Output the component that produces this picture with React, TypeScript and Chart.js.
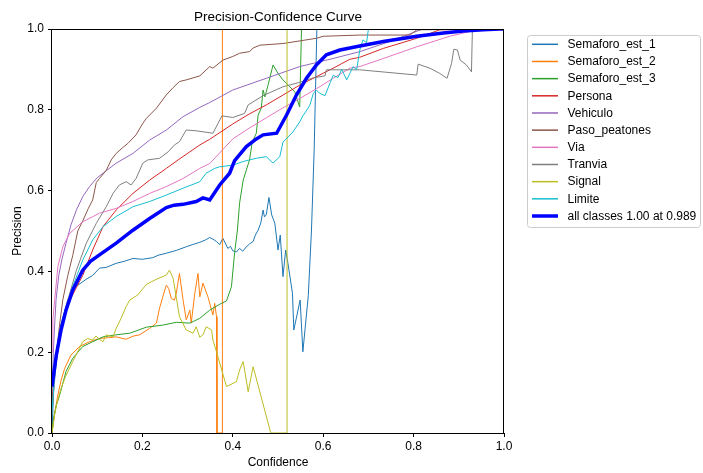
import { useEffect, useRef } from "react";
import { Chart, registerables } from "chart.js";

Chart.register(...registerables);

const FONT = '"Liberation Sans", Arial, Helvetica, sans-serif';

const classNames = [
  "Semaforo_est_1",
  "Semaforo_est_2",
  "Semaforo_est_3",
  "Persona",
  "Vehiculo",
  "Paso_peatones",
  "Via",
  "Tranvia",
  "Signal",
  "Limite",
];
const classColors = [
  "#1f77b4",
  "#ff7f0e",
  "#2ca02c",
  "#d62728",
  "#9467bd",
  "#8c564b",
  "#e377c2",
  "#7f7f7f",
  "#bcbd22",
  "#17becf",
];
const allClassesLabel = "all classes 1.00 at 0.989";
const allClassesColor = "#0000ff";

const xTicks = [0, 0.2, 0.4, 0.6, 0.8, 1.0];
const yTicks = [0, 0.2, 0.4, 0.6, 0.8, 1.0];

// [confidence, precision]
const semaforoEst1: [number, number][] = [
  [0, 0], [0.004, 0.12], [0.01, 0.2], [0.02, 0.27], [0.035, 0.33], [0.05, 0.36], [0.075, 0.38],
  [0.09, 0.39], [0.105, 0.408], [0.12, 0.41], [0.142, 0.42], [0.16, 0.425], [0.179, 0.432],
  [0.2, 0.43], [0.223, 0.434], [0.235, 0.44], [0.253, 0.445], [0.275, 0.452], [0.297, 0.461],
  [0.31, 0.466], [0.327, 0.472], [0.34, 0.478], [0.349, 0.484], [0.356, 0.48], [0.364, 0.474],
  [0.371, 0.466], [0.378, 0.482], [0.389, 0.457], [0.395, 0.462], [0.4, 0.451], [0.408, 0.448],
  [0.415, 0.457], [0.422, 0.45], [0.43, 0.461], [0.437, 0.468], [0.445, 0.474], [0.45, 0.49],
  [0.456, 0.502], [0.462, 0.52], [0.467, 0.552], [0.47, 0.535], [0.474, 0.54], [0.48, 0.583],
  [0.486, 0.54], [0.493, 0.519], [0.5, 0.453], [0.505, 0.49], [0.511, 0.387], [0.517, 0.453],
  [0.522, 0.42], [0.532, 0.346], [0.535, 0.255], [0.549, 0.329], [0.555, 0.201], [0.567, 0.34],
  [0.574, 0.5], [0.58, 0.7], [0.586, 1.0], [1.0, 1.0],
];
const semaforoEst2: [number, number][] = [
  [0, 0], [0.006, 0.05], [0.013, 0.094], [0.02, 0.13], [0.028, 0.16], [0.042, 0.193], [0.061, 0.214],
  [0.083, 0.226], [0.105, 0.234], [0.125, 0.236], [0.142, 0.238], [0.164, 0.232], [0.18, 0.24],
  [0.194, 0.243], [0.216, 0.259], [0.231, 0.272], [0.238, 0.309], [0.245, 0.337], [0.253, 0.366],
  [0.258, 0.358], [0.264, 0.333], [0.271, 0.329], [0.275, 0.346], [0.282, 0.395], [0.29, 0.329],
  [0.297, 0.28], [0.305, 0.304], [0.308, 0.272], [0.316, 0.346], [0.323, 0.395], [0.327, 0.337],
  [0.334, 0.371], [0.345, 0.337], [0.356, 0.292], [0.36, 0.321], [0.364, 0.288], [0.365, 0],
  [0.377, 0], [0.377, 1.0], [1.0, 1.0],
];
const semaforoEst3: [number, number][] = [
  [0, 0], [0.004, 0.04], [0.01, 0.07], [0.017, 0.094], [0.031, 0.152], [0.046, 0.185], [0.068, 0.214],
  [0.09, 0.226], [0.113, 0.238], [0.142, 0.243], [0.172, 0.247], [0.209, 0.262], [0.245, 0.267],
  [0.275, 0.274], [0.305, 0.272], [0.327, 0.284], [0.349, 0.304], [0.37, 0.318], [0.386, 0.327],
  [0.397, 0.362], [0.404, 0.446], [0.41, 0.5], [0.415, 0.569], [0.423, 0.626], [0.43, 0.651],
  [0.437, 0.676], [0.443, 0.72], [0.452, 0.742], [0.456, 0.787], [0.463, 0.804], [0.467, 0.849],
  [0.471, 0.832], [0.478, 0.861], [0.489, 0.911], [0.5, 0.89], [0.511, 0.874], [0.526, 0.857],
  [0.537, 0.845], [0.548, 0.807], [0.552, 1.0], [1.0, 1.0],
];
const persona: [number, number][] = [
  [0, 0.08], [0.005, 0.15], [0.01, 0.2], [0.02, 0.26], [0.03, 0.3], [0.04, 0.33], [0.054, 0.36],
  [0.068, 0.39], [0.09, 0.453], [0.113, 0.511], [0.142, 0.552], [0.179, 0.593], [0.216, 0.626],
  [0.253, 0.655], [0.279, 0.676], [0.305, 0.696], [0.327, 0.713], [0.349, 0.727], [0.4, 0.765],
  [0.437, 0.79], [0.474, 0.812], [0.548, 0.861], [0.622, 0.903], [0.659, 0.925], [0.681, 0.93],
  [0.733, 0.952], [0.807, 0.977], [0.858, 0.998], [1.0, 1.0],
];
const vehiculo: [number, number][] = [
  [0, 0.1], [0.003, 0.2], [0.006, 0.27], [0.009, 0.33], [0.015, 0.39], [0.022, 0.43], [0.031, 0.47],
  [0.042, 0.515], [0.054, 0.552], [0.068, 0.585], [0.083, 0.61], [0.1, 0.632], [0.113, 0.643],
  [0.142, 0.668], [0.179, 0.692], [0.216, 0.725], [0.253, 0.75], [0.29, 0.783], [0.327, 0.806],
  [0.349, 0.818], [0.4, 0.849], [0.474, 0.878], [0.548, 0.907], [0.622, 0.927], [0.681, 0.944],
  [0.75, 0.97], [0.82, 1.0], [1.0, 1.0],
];
const pasoPeatones: [number, number][] = [
  [0, 0.05], [0.004, 0.12], [0.01, 0.2], [0.017, 0.27], [0.024, 0.33], [0.035, 0.39], [0.046, 0.44],
  [0.057, 0.5], [0.068, 0.525], [0.08, 0.555], [0.09, 0.577], [0.098, 0.62], [0.105, 0.63],
  [0.12, 0.65], [0.131, 0.676], [0.142, 0.692], [0.155, 0.705], [0.168, 0.717], [0.186, 0.738],
  [0.2, 0.765], [0.209, 0.779], [0.231, 0.804], [0.253, 0.837], [0.268, 0.855], [0.282, 0.87],
  [0.297, 0.874], [0.327, 0.884], [0.349, 0.907], [0.356, 0.903], [0.378, 0.923], [0.4, 0.932],
  [0.415, 0.94], [0.437, 0.944], [0.445, 0.953], [0.46, 0.96], [0.511, 0.964], [0.585, 0.977],
  [0.6, 0.982], [0.681, 0.985], [0.792, 0.985], [0.807, 0.998], [1.0, 1.0],
];
const via: [number, number][] = [
  [0, 0.2], [0.002, 0.28], [0.006, 0.33], [0.013, 0.412], [0.024, 0.461], [0.039, 0.494],
  [0.068, 0.523], [0.105, 0.544], [0.142, 0.556], [0.179, 0.573], [0.216, 0.593], [0.253, 0.61],
  [0.29, 0.63], [0.327, 0.655], [0.349, 0.667], [0.4, 0.728], [0.437, 0.755], [0.474, 0.78],
  [0.511, 0.805], [0.548, 0.828], [0.585, 0.852], [0.622, 0.878], [0.659, 0.903], [0.681, 0.907],
  [0.733, 0.927], [0.807, 0.956], [0.88, 0.982], [0.94, 0.998], [1.0, 1.0],
];
const tranvia: [number, number][] = [
  [0, 0.05], [0.005, 0.12], [0.01, 0.18], [0.02, 0.26], [0.035, 0.329], [0.054, 0.403], [0.076, 0.47],
  [0.098, 0.519], [0.12, 0.56], [0.135, 0.593], [0.149, 0.614], [0.164, 0.622], [0.175, 0.614],
  [0.186, 0.63], [0.201, 0.668], [0.212, 0.676], [0.238, 0.68], [0.257, 0.696], [0.271, 0.713],
  [0.282, 0.721], [0.297, 0.75], [0.319, 0.748], [0.356, 0.742], [0.376, 0.785], [0.4, 0.781],
  [0.426, 0.791], [0.434, 0.812], [0.467, 0.835], [0.511, 0.857], [0.548, 0.868], [0.578, 0.879],
  [0.604, 0.884], [0.607, 0.899], [0.681, 0.899], [0.807, 0.886], [0.81, 0.913], [0.836, 0.903],
  [0.858, 0.89], [0.874, 0.878], [0.884, 0.915], [0.889, 0.95], [0.897, 0.948], [0.903, 0.923],
  [0.917, 0.911], [0.928, 0.894], [0.93, 0.995], [1.0, 1.0],
];
const signal: [number, number][] = [
  [0, 0], [0.005, 0.04], [0.01, 0.07], [0.02, 0.11], [0.03, 0.14], [0.046, 0.177], [0.068, 0.226],
  [0.079, 0.234], [0.09, 0.23], [0.097, 0.24], [0.105, 0.232], [0.113, 0.226], [0.12, 0.243],
  [0.135, 0.238], [0.142, 0.259], [0.153, 0.284], [0.164, 0.313], [0.172, 0.329], [0.19, 0.342],
  [0.209, 0.368], [0.23, 0.38], [0.253, 0.391], [0.26, 0.403], [0.268, 0.383], [0.282, 0.288],
  [0.297, 0.255], [0.312, 0.247], [0.319, 0.263], [0.327, 0.237], [0.334, 0.243], [0.341, 0.263],
  [0.353, 0.255], [0.356, 0.23], [0.364, 0.201], [0.386, 0.115], [0.408, 0.127], [0.415, 0.156],
  [0.423, 0.177], [0.434, 0.102], [0.445, 0.164], [0.484, 0], [0.52, 0], [0.52, 1.0], [1.0, 1.0],
];
const limite: [number, number][] = [
  [0, 0.05], [0.005, 0.13], [0.01, 0.18], [0.02, 0.25], [0.03, 0.3], [0.045, 0.36], [0.068, 0.428],
  [0.09, 0.478], [0.113, 0.511], [0.142, 0.536], [0.179, 0.56], [0.216, 0.573], [0.253, 0.589],
  [0.29, 0.606], [0.327, 0.622], [0.341, 0.643], [0.36, 0.655], [0.371, 0.659], [0.4, 0.663],
  [0.423, 0.672], [0.437, 0.676], [0.452, 0.68], [0.474, 0.684], [0.489, 0.668], [0.504, 0.684],
  [0.511, 0.72], [0.533, 0.745], [0.548, 0.77], [0.555, 0.785], [0.57, 0.81], [0.578, 0.84],
  [0.585, 0.849], [0.592, 0.841], [0.604, 0.835], [0.615, 0.866], [0.622, 0.885], [0.633, 0.88],
  [0.641, 0.9], [0.652, 0.874], [0.659, 0.89], [0.666, 0.907], [0.674, 0.899], [0.681, 0.948],
  [0.688, 0.973], [0.696, 0.966], [0.7, 1.0], [1.0, 1.0],
];
const allClasses: [number, number][] = [
  [0, 0.115], [0.009, 0.189], [0.02, 0.255], [0.031, 0.304], [0.046, 0.354], [0.068, 0.403],
  [0.085, 0.425], [0.105, 0.441], [0.142, 0.47], [0.179, 0.502], [0.216, 0.531], [0.253, 0.558],
  [0.27, 0.564], [0.29, 0.566], [0.319, 0.573], [0.334, 0.582], [0.349, 0.577], [0.371, 0.614],
  [0.393, 0.643], [0.404, 0.674], [0.43, 0.709], [0.452, 0.728], [0.467, 0.738], [0.497, 0.742],
  [0.519, 0.787], [0.541, 0.837], [0.563, 0.878], [0.585, 0.911], [0.607, 0.936], [0.637, 0.948],
  [0.659, 0.953], [0.681, 0.958], [0.733, 0.969], [0.807, 0.982], [0.866, 0.99], [0.91, 0.995],
  [0.954, 0.998], [0.99, 1.0], [1.0, 1.0],
];

const classSeries = [
  semaforoEst1, semaforoEst2, semaforoEst3, persona, vehiculo,
  pasoPeatones, via, tranvia, signal, limite,
];

const framePlugin = {
  id: "mplFrame",
  afterDatasetsDraw(chart: any) {
    const { ctx, chartArea } = chart;
    ctx.save();
    ctx.strokeStyle = "#000";
    ctx.lineWidth = 1;
    ctx.strokeRect(
      Math.round(chartArea.left) - 0.5,
      Math.round(chartArea.top) + 0.5,
      Math.round(chartArea.right - chartArea.left) + 0,
      Math.round(chartArea.bottom - chartArea.top) - 0
    );
    ctx.restore();
  },
};

const legendPlugin = {
  id: "mplLegend",
  afterDraw(chart: any) {
    const ctx = chart.ctx;
    const ds = chart.data.datasets;
    const left = 527.5;
    const top = 35.5;
    const w = 173;
    const h = 192;
    const rowH = 17.17;
    ctx.save();
    ctx.beginPath();
    if (typeof ctx.roundRect === "function") ctx.roundRect(left, top, w, h, 3);
    else ctx.rect(left, top, w, h);
    ctx.fillStyle = "rgba(255,255,255,0.8)";
    ctx.fill();
    ctx.strokeStyle = "#cccccc";
    ctx.lineWidth = 1;
    ctx.stroke();
    ctx.font = `12px ${FONT}`;
    ctx.textBaseline = "middle";
    ctx.textAlign = "left";
    ds.forEach((d: any, i: number) => {
      const y = 44.3 + i * rowH;
      ctx.strokeStyle = d.borderColor;
      ctx.lineWidth = d.borderWidth > 2 ? 3.5 : 1.5;
      ctx.beginPath();
      ctx.moveTo(532, y);
      ctx.lineTo(558, y);
      ctx.stroke();
      ctx.fillStyle = "#000";
      ctx.fillText(d.label, 567.5, y + 0.5);
    });
    ctx.restore();
  },
};

export default function App() {
  const canvasRef = useRef<HTMLCanvasElement | null>(null);

  useEffect(() => {
    if (!canvasRef.current) return;
    Chart.defaults.font.family = FONT;
    Chart.defaults.color = "#000";

    const datasets: any[] = classSeries.map((series, i) => ({
      label: classNames[i],
      data: series.map(([x, y]) => ({ x, y })),
      borderColor: classColors[i],
      backgroundColor: classColors[i],
      borderWidth: 1,
      pointRadius: 0,
      tension: 0,
      fill: false,
      clip: 0,
      order: 20 - i,
    }));
    datasets.push({
      label: allClassesLabel,
      data: allClasses.map(([x, y]) => ({ x, y })),
      borderColor: allClassesColor,
      backgroundColor: allClassesColor,
      borderWidth: 3.5,
      pointRadius: 0,
      tension: 0,
      fill: false,
      clip: 0,
      order: 0,
    });

    const chart = new Chart(canvasRef.current, {
      type: "line",
      data: { datasets },
      options: {
        animation: false,
        responsive: false,
        devicePixelRatio: 1,
        parsing: false,
        layout: { padding: { left: 0, top: 0, right: 199, bottom: 0 } },
        plugins: {
          legend: { display: false },
          tooltip: { enabled: false },
          title: {
            display: true,
            text: "Precision-Confidence Curve",
            fullSize: false,
            color: "#000",
            font: { size: 13.5, weight: "normal", family: FONT, lineHeight: 1.2 },
            padding: { top: 9.2, bottom: 3.6 },
          },
        },
        scales: {
          x: {
            type: "linear",
            min: 0,
            max: 1,
            afterBuildTicks: (scale: any) => {
              scale.ticks = xTicks.map((v) => ({ value: v }));
            },
            afterFit: (scale: any) => {
              scale.height = 40;
            },
            ticks: {
              callback: (v: any) => Number(v).toFixed(1),
              font: { size: 12, family: FONT },
              color: "#000",
              padding: 2,
              maxRotation: 0,
            },
            grid: {
              display: true,
              drawOnChartArea: false,
              drawTicks: true,
              tickLength: 4,
              tickColor: "#000",
              tickWidth: 1,
            },
            border: { display: false },
            title: {
              display: true,
              text: "Confidence",
              color: "#000",
              font: { size: 12, family: FONT, lineHeight: 1.2 },
              padding: { top: 0, bottom: 3 },
            },
          },
          y: {
            type: "linear",
            min: 0,
            max: 1,
            afterBuildTicks: (scale: any) => {
              scale.ticks = yTicks.map((v) => ({ value: v }));
            },
            afterFit: (scale: any) => {
              scale.width = 52;
            },
            ticks: {
              callback: (v: any) => Number(v).toFixed(1),
              font: { size: 12, family: FONT },
              color: "#000",
              padding: 4,
            },
            grid: {
              display: true,
              drawOnChartArea: false,
              drawTicks: true,
              tickLength: 4,
              tickColor: "#000",
              tickWidth: 1,
            },
            border: { display: false },
            title: {
              display: true,
              text: "Precision",
              color: "#000",
              font: { size: 12, family: FONT, lineHeight: 1.2 },
              padding: { top: 10.3, bottom: 0 },
            },
          },
        },
      },
      plugins: [framePlugin, legendPlugin],
    } as any);

    return () => chart.destroy();
  }, []);

  return (
    <div style={{ position: "absolute", left: 0, top: 0, width: 703, height: 473, background: "#fff" }}>
      <canvas ref={canvasRef} width={703} height={473} style={{ display: "block" }} />
    </div>
  );
}
